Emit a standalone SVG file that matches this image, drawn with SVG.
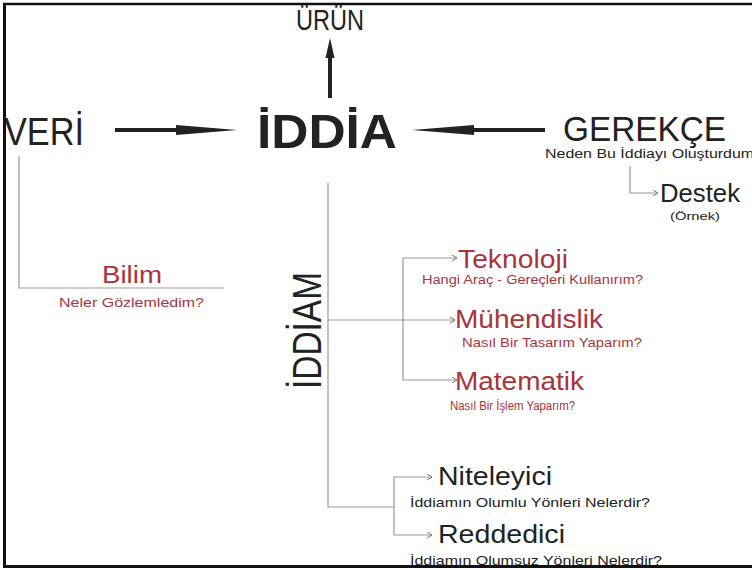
<svg xmlns="http://www.w3.org/2000/svg" width="752" height="570" viewBox="0 0 752 570">
<defs>
<style>
text{font-family:"Liberation Sans",Arial,sans-serif}
.big{fill:#222}
.red{fill:#a9343c}
.blk{fill:#222}
.thin{fill:none;stroke:#9a9a9a;stroke-width:1.2}
.thick{fill:none;stroke:#222;stroke-width:4}
</style>
<marker id="chev" markerWidth="8" markerHeight="8" refX="6" refY="3" orient="auto-start-reverse" markerUnits="userSpaceOnUse">
<path d="M1,0 L6,3 L1,6" fill="none" stroke="#777" stroke-width="1"/>
</marker>
</defs>
<rect width="752" height="570" fill="#fff"/>
<g id="frame" fill="none" stroke="#111">
<line x1="3" y1="4" x2="752" y2="4" stroke-width="2.5"/>
<line x1="4.5" y1="3" x2="4.5" y2="568" stroke-width="3"/>
<line x1="3" y1="566.5" x2="752" y2="566.5" stroke-width="3"/>
</g>
<g id="connectors">
<line class="thick" x1="330" y1="98" x2="330" y2="56" stroke-width="3.5"/>
<polygon points="330,38 325.5,58 334.5,58" fill="#222"/>
<line class="thick" x1="115" y1="130" x2="180" y2="130"/>
<polygon points="237,130 176,125 176,135" fill="#222"/>
<line class="thick" x1="470" y1="130" x2="545" y2="130"/>
<polygon points="412,130 474,125 474,135" fill="#222"/>
<path class="thin" d="M19,156 V288 H224"/>
<path class="thin" d="M328,183 V507 H394"/>
<path class="thin" d="M328,320 H455" marker-end="url(#chev)"/>
<path class="thin" d="M457,258 H403 V380 H457" marker-start="url(#chev)" marker-end="url(#chev)"/>
<path class="thin" d="M432,477 H394 V535 H432" marker-start="url(#chev)" marker-end="url(#chev)"/>
<path class="thin" d="M630,166 V193 H658" marker-end="url(#chev)"/>
</g>
<g id="urun"><text class="big" x="296" y="30" font-size="29" textLength="68" lengthAdjust="spacingAndGlyphs">ÜRÜN</text></g>
<g id="veri"><text class="big" x="4" y="145" font-size="39" textLength="80" lengthAdjust="spacingAndGlyphs">VERİ</text></g>
<g id="iddia"><text class="big" x="257" y="148" font-size="48" font-weight="bold" textLength="140" lengthAdjust="spacingAndGlyphs">İDDİA</text></g>
<g id="gerekce">
<text class="big" x="563" y="141" font-size="35" textLength="163" lengthAdjust="spacingAndGlyphs">GEREKÇE</text>
<text class="blk" x="545" y="158" font-size="12.5" textLength="218" lengthAdjust="spacingAndGlyphs">Neden Bu İddiayı Oluşturdum?</text>
</g>
<g id="destek">
<text class="blk" x="660" y="202" font-size="26" textLength="80" lengthAdjust="spacingAndGlyphs">Destek</text>
<text class="blk" x="670" y="220" font-size="11.5" textLength="50" lengthAdjust="spacingAndGlyphs">(Örnek)</text>
</g>
<g id="bilim">
<text class="red" x="102" y="283" font-size="23" textLength="60" lengthAdjust="spacingAndGlyphs">Bilim</text>
<text class="red" x="59" y="307" font-size="13" textLength="145" lengthAdjust="spacingAndGlyphs">Neler Gözlemledim?</text>
</g>
<g id="iddiam"><text class="big" transform="translate(321,389) rotate(-90)" x="0" y="0" font-size="40" textLength="117" lengthAdjust="spacingAndGlyphs">İDDİAM</text></g>
<g id="teknoloji">
<text class="red" x="458" y="268" font-size="25" textLength="110" lengthAdjust="spacingAndGlyphs">Teknoloji</text>
<text class="red" x="422" y="284" font-size="12" textLength="221" lengthAdjust="spacingAndGlyphs">Hangi Araç - Gereçleri Kullanırım?</text>
</g>
<g id="muhendislik">
<text class="red" x="455" y="328" font-size="26" textLength="148" lengthAdjust="spacingAndGlyphs">Mühendislik</text>
<text class="red" x="462" y="347" font-size="12" textLength="180" lengthAdjust="spacingAndGlyphs">Nasıl Bir Tasarım Yaparım?</text>
</g>
<g id="matematik">
<text class="red" x="455" y="390" font-size="26" textLength="129" lengthAdjust="spacingAndGlyphs">Matematik</text>
<text class="red" x="450" y="410" font-size="12" textLength="125" lengthAdjust="spacingAndGlyphs">Nasıl Bir İşlem Yaparım?</text>
</g>
<g id="niteleyici">
<text class="blk" x="438" y="485" font-size="26" textLength="114" lengthAdjust="spacingAndGlyphs">Niteleyici</text>
<text class="blk" x="410" y="507" font-size="13" textLength="240" lengthAdjust="spacingAndGlyphs">İddiamın Olumlu Yönleri Nelerdir?</text>
</g>
<g id="reddedici">
<text class="blk" x="438" y="543" font-size="26" textLength="127" lengthAdjust="spacingAndGlyphs">Reddedici</text>
<text class="blk" x="410" y="565" font-size="13" textLength="252" lengthAdjust="spacingAndGlyphs">İddiamın Olumsuz Yönleri Nelerdir?</text>
</g>
</svg>
